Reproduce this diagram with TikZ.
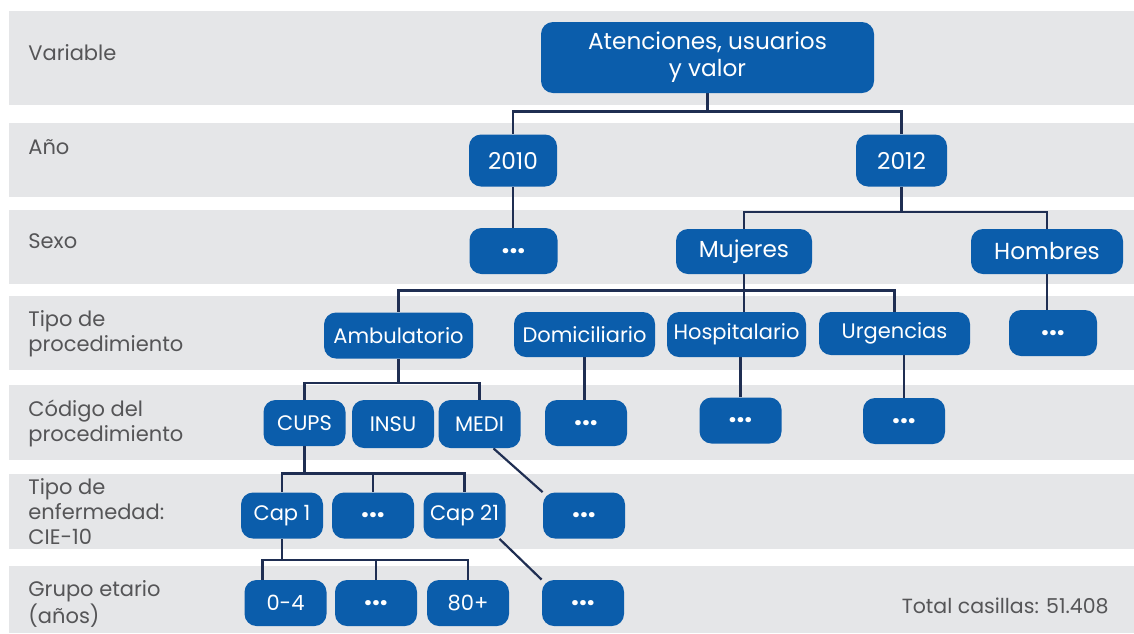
\documentclass[tikz,border=0pt]{standalone}
\usepackage{fontspec}
\setmainfont{Poppins}
\usetikzlibrary{positioning, backgrounds}

\definecolor{boxblue}{HTML}{0B5DAB}
\definecolor{bandgray}{HTML}{E5E6E8}
\definecolor{linenavy}{HTML}{1F2E52}
\definecolor{labelgray}{HTML}{555557}

\begin{document}
\begin{tikzpicture}[
    x=0.5pt, y=-0.5pt,
    box/.style={rectangle, fill=boxblue, text=white, rounded corners=6pt, minimum width=41pt, minimum height=23pt, inner sep=2pt, align=center, font=\fontsize{10.5}{12}\selectfont},
    bigbox/.style={box, font=\fontsize{11.6}{13.5}\selectfont},
    dotbox/.style={box, font=\fontsize{14}{14}\selectfont\bfseries},
    rowtext/.style={anchor=west, align=left, inner sep=0pt, text=labelgray, font=\fontsize{10.5}{12.5}\selectfont},
    conn/.style={draw=linenavy, line width=1.1pt}
]
\useasboundingbox (0,0) rectangle (1134,633);

% Bands
\begin{pgfonlayer}{background}
\foreach \ytop/\ybot in {11/105, 123/197, 210/284, 296/370, 385/460, 474/549, 566/633}
    \fill[bandgray] (9,\ytop) rectangle (1134,\ybot);
\end{pgfonlayer}

% Row titles
\node[rowtext] (lvar) at (28,53) {Variable};
\node[rowtext] (lanio) at (28,147) {Año};
\node[rowtext] (lsexo) at (28,241) {Sexo};
\node[rowtext] (ltipo) at (28,334) {Tipo de\\procedimiento};
\node[rowtext] (lcod) at (28,423) {Código del\\procedimiento};
\node[rowtext] (lenf) at (28,512) {Tipo de\\enfermedad:\\CIE-10};
\node[rowtext] (lgrupo) at (28,604) {Grupo etario\\(años)};
\node[rowtext, anchor=east, font=\fontsize{10.25}{12}\selectfont] (total) at (1109,606) {Total casillas: 51.408};

% Tree
\node[bigbox, minimum width=166.5pt, minimum height=35.5pt] (root) at (707.5,57.5) {Atenciones, usuarios\\y valor};

\node[bigbox, minimum width=44pt, minimum height=26pt] (y2010) at (513,160.5) {2010};
\node[bigbox, minimum width=45.5pt, minimum height=26pt] (y2012) at (901.5,160.5) {2012};

\node[dotbox, minimum width=44pt] (s2010) at (513.5,251) {{.}{.}{.}};
\node[bigbox, minimum width=68pt, minimum height=22.5pt] (muj) at (744,251.5) {Mujeres};
\node[bigbox, minimum width=76pt, minimum height=22.5pt] (homb) at (1047,251.5) {Hombres};

\node[box, minimum width=74.5pt] (amb) at (398.5,335.5) {Ambulatorio};
\node[box, minimum width=70.5pt, minimum height=22.5pt] (dom) at (584.5,334.5) {Domiciliario};
\node[box, minimum width=69.5pt, minimum height=22.5pt] (hosp) at (736.5,334.5) {Hospitalario};
\node[box, minimum width=75.5pt, minimum height=21.5pt] (urg) at (894.5,333.5) {Urgencias};
\node[dotbox, minimum width=44pt] (hdots) at (1053,333) {{.}{.}{.}};

\node[box] (cups) at (304.5,423) {CUPS};
\node[box, minimum height=24pt] (insu) at (393,424) {INSU};
\node[box, minimum height=24pt] (medi) at (479.5,424) {MEDI};
\node[dotbox] (ddots) at (586,423) {{.}{.}{.}};
\node[dotbox] (pdots) at (740.5,420.5) {{.}{.}{.}};
\node[dotbox] (udots) at (904,421) {{.}{.}{.}};

\node[box] (cap1) at (282,515.5) {Cap 1};
\node[dotbox] (cdots) at (373,515.5) {{.}{.}{.}};
\node[box] (cap21) at (464.5,515.5) {Cap 21};
\node[dotbox] (mdots) at (584,515.5) {{.}{.}{.}};

\node[box] (g04) at (285.5,603) {0-4};
\node[dotbox] (gdots) at (376,603) {{.}{.}{.}};
\node[box] (g80) at (468,603) {80+};
\node[dotbox] (kdots) at (583,603) {{.}{.}{.}};

% Connectors
\begin{pgfonlayer}{background}
\draw[conn] (root.south) -- ++(0,18) -| (y2010.north);
\draw[conn] (root.south) ++(0,18) -| (y2012.north);
\draw[conn] (y2010.south) -- (y2010.south |- s2010.north);
\draw[conn] (y2012.south) -- ++(0,25) -| (muj.north);
\draw[conn] (y2012.south) ++(0,25) -| (homb.north);
\draw[conn] (muj.south) -- (muj.south |- hosp.north);
\draw[conn] (muj.south) ++(0,16) -| (amb.north);
\draw[conn] (muj.south) ++(0,16) -| (urg.north);
\draw[conn] (homb.south) -- (homb.south |- hdots.north);
\draw[conn] (amb.south) -- ++(0,24) -| (cups.north);
\draw[conn] (amb.south) ++(0,24) -| (medi.north);
\draw[conn] (dom.south) -- (dom.south |- ddots.north);
\draw[conn] (pdots.north) -- (pdots.north |- hosp.south);
\draw[conn] (udots.north) -- (udots.north |- urg.south);
\draw[conn] (medi.south) ++(14,0) -- (mdots.north west);
\draw[conn] (cups.south) -- ++(0,27) -| (cap1.north);
\draw[conn] (cups.south) ++(0,27) -| (cdots.north);
\draw[conn] (cups.south) ++(0,27) -| (cap21.north);
\draw[conn] (cap21.south) ++(35,0) -- (kdots.north west);
\draw[conn] (cap1.south) -- ++(0,21) -| ([xshift=-11.5pt]g04.north);
\draw[conn] (cap1.south) ++(0,21) -| (gdots.north);
\draw[conn] (cap1.south) ++(0,21) -| (g80.north);
\end{pgfonlayer}

\end{tikzpicture}
\end{document}
